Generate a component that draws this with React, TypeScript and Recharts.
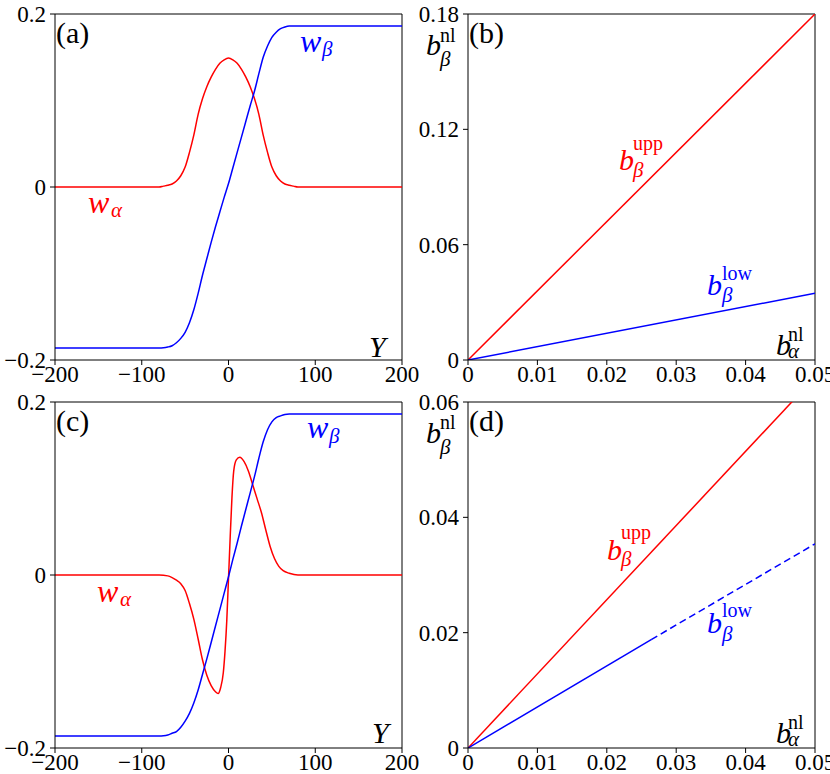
import React from 'react';
import { LineChart, Line, XAxis, YAxis, ReferenceLine } from 'recharts';

// panel (a): symmetric bump in w_alpha, kink in w_beta
const yGrid = [-200, -100, -90, -80, -75, -70, -65, -60, -55, -50, -45, -40, -35, -30, -25, -20, -15, -10, -5, 0,
  5, 10, 15, 20, 25, 30, 35, 40, 45, 50, 55, 60, 65, 70, 75, 80, 90, 100, 200];
const aAlpha = [0, 0, 0, 0, 0.001, 0.002, 0.0035, 0.007, 0.013, 0.023, 0.04, 0.06, 0.084, 0.102, 0.116, 0.127, 0.136, 0.143, 0.147, 0.149,
  0.147, 0.143, 0.136, 0.127, 0.116, 0.102, 0.084, 0.06, 0.04, 0.023, 0.013, 0.007, 0.0035, 0.002, 0.001, 0, 0, 0, 0];
const aBeta = [-0.186, -0.186, -0.186, -0.186, -0.1858, -0.185, -0.1835, -0.18, -0.175, -0.168, -0.157, -0.142, -0.123, -0.102, -0.083, -0.064, -0.046, -0.029, -0.012, 0.004,
  0.022, 0.04, 0.058, 0.076, 0.094, 0.111, 0.131, 0.15, 0.163, 0.173, 0.179, 0.183, 0.185, 0.186, 0.186, 0.186, 0.186, 0.186, 0.186];

// panel (c): antisymmetric w_alpha
const cAlphaY = [-200, -100, -80, -70, -65, -60, -55, -50, -45, -40, -35, -30, -25, -20, -15, -12, -9, -6, -4, -2, 0, 2, 4, 6, 9,
  13, 18, 23, 28, 33, 38, 43, 48, 53, 58, 63, 70, 80, 100, 200];
const cAlpha = [0, 0, 0, -0.001, -0.003, -0.006, -0.01, -0.018, -0.033, -0.051, -0.074, -0.098, -0.116, -0.128, -0.135, -0.137, -0.13, -0.113, -0.088, -0.053, -0.004, 0.045, 0.09, 0.12, 0.133,
  0.136, 0.131, 0.12, 0.104, 0.088, 0.072, 0.052, 0.033, 0.019, 0.01, 0.005, 0.002, 0, 0, 0];
const cBeta = [-0.186, -0.186, -0.186, -0.186, -0.1858, -0.185, -0.183, -0.181, -0.176, -0.169, -0.16, -0.148, -0.133, -0.115, -0.097, -0.078, -0.059, -0.04, -0.021, -0.002,
  0.018, 0.037, 0.057, 0.076, 0.095, 0.114, 0.135, 0.154, 0.168, 0.177, 0.182, 0.184, 0.1855, 0.186, 0.186, 0.186, 0.186, 0.186, 0.186];

// panels (b), (d): b_beta bounds vs b_alpha
const bX = [0, 0.05];
const bUpp = [0, 0.18];
const bLow = [0, 0.0347];
const dX = [0, 0.05];
const dUpp = [0, 0.0643];
const dLowSolidX = [0, 0.0264];
const dLowSolid = [0, 0.0188];
const dLowDashX = [0.0264, 0.05];
const dLowDash = [0.0188, 0.0354];

const wTicksX = [-200, -100, 0, 100, 200];
const wTicksY = [-0.2, 0, 0.2];
const bTicksX = [0, 0.01, 0.02, 0.03, 0.04, 0.05];
const bTicksY = [0, 0.06, 0.12, 0.18];
const dTicksY = [0, 0.02, 0.04, 0.06];

const zip = (xs: number[], ys: number[]) => xs.map((x, i) => ({ x, y: ys[i] }));

const FONT = 'Liberation Serif';
const RED = '#ff0000';
const BLUE = '#0000ff';
const fmt = (v: number) => String(v).replace('-', '\u2212');
const tickStyle = { fontSize: 23, fontFamily: FONT, fill: '#000' };

type Series = { data: { x: number; y: number }[]; color: string; dash?: string; curve?: boolean };

function Panel(props: {
  left: number; top: number; yAxisW: number; marginR: number;
  xDomain: number[]; yDomain: number[]; xTicks: number[]; yTicks: number[]; series: Series[];
}) {
  const { left, top, yAxisW, marginR, xDomain, yDomain, xTicks, yTicks, series } = props;
  // extra room on the right so the last tick label isn't clipped
  return (
    <div style={{ position: 'absolute', left, top }}>
      <LineChart width={440} height={386} margin={{ top: 14, right: marginR + 25, left: 0, bottom: 0 }}>
        <XAxis dataKey="x" type="number" domain={xDomain} ticks={xTicks} allowDataOverflow
          height={26} tickSize={5} tickMargin={1} tickFormatter={fmt} tick={tickStyle}
          stroke="#000" interval={0} />
        <YAxis type="number" domain={yDomain} ticks={yTicks} allowDataOverflow
          width={yAxisW} tickSize={5} tickMargin={4} tickFormatter={fmt} tick={tickStyle}
          stroke="#000" interval={0} />
        <ReferenceLine y={yDomain[1]} stroke="#000" />
        <ReferenceLine x={xDomain[1]} stroke="#000" />
        {series.map((s, i) => (
          <Line key={i} data={s.data} dataKey="y" type={s.curve ? 'monotone' : 'linear'}
            stroke={s.color} strokeWidth={1.5} strokeDasharray={s.dash} dot={false}
            isAnimationActive={false} />
        ))}
      </LineChart>
    </div>
  );
}

function Sym(props: { x: number; y: number; b: string; sub: string; sup?: string; subX: number; subY: number; supY?: number; color: string; bSize?: number }) {
  const { x, y, b, sub, sup, subX, subY, supY, color, bSize = 30 } = props;
  return (
    <g fill={color} fontFamily={FONT}>
      <text x={x} y={y} fontSize={bSize} fontStyle="italic">{b}</text>
      <text x={subX} y={subY} fontSize={21} fontStyle="italic">{sub}</text>
      {sup && <text x={subX} y={supY} fontSize={20}>{sup}</text>}
    </g>
  );
}

export default function App() {
  return (
    <div style={{ position: 'absolute', left: 0, top: 0, width: 830, height: 774, overflow: 'hidden', background: '#fff' }}>
      <Panel left={0} top={0} yAxisW={55} marginR={13} xDomain={[-200, 200]} yDomain={[-0.2, 0.2]}
        xTicks={wTicksX} yTicks={wTicksY}
        series={[{ data: zip(yGrid, aAlpha), color: RED, curve: true }, { data: zip(yGrid, aBeta), color: BLUE, curve: true }]} />
      <Panel left={415} top={0} yAxisW={53} marginR={15} xDomain={[0, 0.05]} yDomain={[0, 0.18]}
        xTicks={bTicksX} yTicks={bTicksY}
        series={[{ data: zip(bX, bUpp), color: RED }, { data: zip(bX, bLow), color: BLUE }]} />
      <Panel left={0} top={388} yAxisW={55} marginR={13} xDomain={[-200, 200]} yDomain={[-0.2, 0.2]}
        xTicks={wTicksX} yTicks={wTicksY}
        series={[{ data: zip(cAlphaY, cAlpha), color: RED, curve: true }, { data: zip(yGrid, cBeta), color: BLUE, curve: true }]} />
      <Panel left={415} top={388} yAxisW={53} marginR={15} xDomain={[0, 0.05]} yDomain={[0, 0.06]}
        xTicks={bTicksX} yTicks={dTicksY}
        series={[
          { data: zip(dX, dUpp), color: RED },
          { data: zip(dLowSolidX, dLowSolid), color: BLUE },
          { data: zip(dLowDashX, dLowDash), color: BLUE, dash: '7 4' },
        ]} />

      <svg width={830} height={774} style={{ position: 'absolute', left: 0, top: 0, pointerEvents: 'none' }}>
        <g fontFamily={FONT} fontSize={30} fill="#000">
          <text x={56} y={43}>(a)</text>
          <text x={469} y={43}>(b)</text>
          <text x={56} y={431}>(c)</text>
          <text x={469} y={431}>(d)</text>
          <text x={369} y={357} fontStyle="italic">Y</text>
          <text x={372} y={743} fontStyle="italic">Y</text>
        </g>
        {/* panel (a) */}
        <Sym x={88} y={213} b="w" bSize={32} sub={'\u03b1'} subX={111} subY={217} color={RED} />
        <Sym x={300} y={52} b="w" bSize={32} sub={'\u03b2'} subX={322} subY={56} color={BLUE} />
        {/* panel (b) */}
        <Sym x={426} y={55} b="b" sub={'\u03b2'} sup="nl" subX={440} subY={66} supY={42} color="#000" />
        <Sym x={619} y={170} b="b" sub={'\u03b2'} sup="upp" subX={633} subY={177} supY={150} color={RED} />
        <Sym x={707} y={295} b="b" sub={'\u03b2'} sup="low" subX={722} subY={302} supY={280} color={BLUE} />
        <Sym x={776} y={355} b="b" sub={'\u03b1'} sup="nl" subX={788} subY={358} supY={341} color="#000" />
        {/* panel (c) */}
        <Sym x={97} y={602} b="w" bSize={32} sub={'\u03b1'} subX={120} subY={606} color={RED} />
        <Sym x={307} y={438} b="w" bSize={32} sub={'\u03b2'} subX={329} subY={443} color={BLUE} />
        {/* panel (d) */}
        <Sym x={426} y={443} b="b" sub={'\u03b2'} sup="nl" subX={440} subY={454} supY={429} color="#000" />
        <Sym x={607} y={560} b="b" sub={'\u03b2'} sup="upp" subX={621} subY={566} supY={539} color={RED} />
        <Sym x={707} y={633} b="b" sub={'\u03b2'} sup="low" subX={722} subY={641} supY={617} color={BLUE} />
        <Sym x={776} y={743} b="b" sub={'\u03b1'} sup="nl" subX={788} subY={746} supY={729} color="#000" />
      </svg>
    </div>
  );
}
